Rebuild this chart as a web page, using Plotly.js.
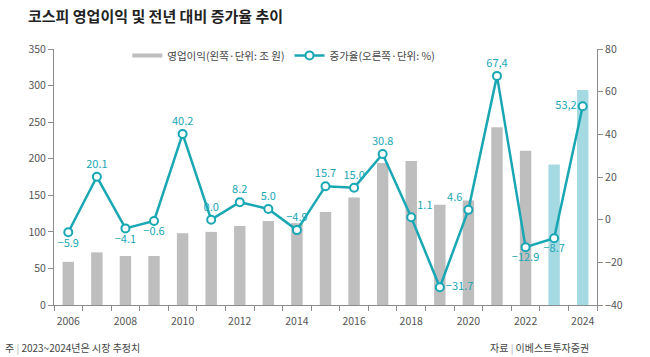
<!DOCTYPE html>
<html><head><meta charset="utf-8">
<script src="https://cdn.plot.ly/plotly-3.0.1.min.js"></script>
<style>html,body{margin:0;padding:0;background:#fff}#chart{width:650px;height:357px}</style>
</head><body><div id="chart"></div>
<script>
const years = [2006,2007,2008,2009,2010,2011,2012,2013,2014,2015,2016,2017,2018,2019,2020,2021,2022,2023,2024];
const profit = [59,72,67,67,98,100,108,115,112,127,147,194,197,137,143,243,211,192,294];
const growth = [-5.9,20.1,-4.1,-0.6,40.2,0.0,8.2,5.0,-4.9,15.7,15.0,30.8,1.1,-31.7,4.6,67.4,-12.9,-8.7,53.2];
const estimateYears = [2023,2024];
const commaYears = [2021,2024];
const labelYears = [2006,2008,2010,2012,2014,2016,2018,2020,2022,2024];
const boundaries = [2005.5].concat(years.map(y=>y+0.5));

const teal = '#19a7b4';
const barColors = years.map(y => estimateYears.includes(y) ? '#a6dae3' : '#bebebe');
const fmt = (v, y) => {
  let s = Math.abs(v).toFixed(1);
  if (commaYears.includes(y)) s = s.replace('.', ',');
  return (v < 0 ? '\u2212' : '') + s;
};
const posMap = {2006:'bottom center',2008:'bottom center',2009:'bottom center',2018:'top right',2019:'middle right',2020:'top left',2022:'bottom center',2023:'bottom center',2024:'middle left'};
const textPos = years.map(y => posMap[y] || 'top center');
const font = 'Noto Sans CJK KR, Noto Sans, sans-serif';
const axisColor = '#8c8c8c';
const tickFont = {family: font, size: 10.5, color: '#555'};

const traces = [
  {type:'bar', x: years, y: profit, marker:{color: barColors}, width: 0.4, showlegend:false, xaxis:'x', yaxis:'y', hoverinfo:'skip'},
  {type:'scatter', mode:'lines', x:[null], y:[null], name:'영업이익(왼쪽·단위: 조 원)', line:{color:'#bebebe', width:4}, xaxis:'x', yaxis:'y'},
  {type:'scatter', mode:'lines+markers+text', x: years, y: growth, name:'증가율(오른쪽·단위: %)',
   text: growth.map((v,i) => fmt(v, years[i])), textposition: textPos, textfont:{family: font, size: 11, color: teal},
   line:{color: teal, width: 2.5}, marker:{size: 8, color:'#fff', line:{color: teal, width: 2}},
   xaxis:'x2', yaxis:'y2', cliponaxis:false}
];

const layout = {
  width: 650, height: 357,
  margin: {l: 54, r: 53, t: 49, b: 52},
  paper_bgcolor:'#fff', plot_bgcolor:'#fff',
  font: {family: font, color:'#444'},
  title: {text:'코스피 영업이익 및 전년 대비 증가율 추이', x: 28/650, xanchor:'left', xref:'container', y: 1-17/357, yanchor:'middle', yref:'container',
          font:{family: font, size: 15, color:'#222', weight: 700}},
  showlegend: true,
  legend: {orientation:'h', x: 0.135, xanchor:'left', y: 0.975, yanchor:'middle', font:{family: font, size: 10.5, color:'#444'}, bgcolor:'rgba(0,0,0,0)', itemwidth: 30},
  xaxis: {range:[2005.5, 2024.5], tickvals: labelYears, ticktext: labelYears.map(String), ticks:'outside', ticklen: 6, tickcolor:'rgba(0,0,0,0)',
          showline: true, linecolor: axisColor, linewidth: 1, showgrid: false, zeroline: false, tickfont: tickFont, fixedrange: true},
  xaxis2: {range:[2005.5, 2024.5], overlaying:'x', anchor:'y2', side:'bottom', tickvals: boundaries, ticks:'outside', ticklen: 5, tickcolor: axisColor,
           showticklabels: false, showline: false, showgrid: false, zeroline: false},
  yaxis: {range:[0, 350], tickvals:[0,50,100,150,200,250,300,350], ticks:'outside', ticklen: 5, tickcolor: axisColor,
          showline: true, linecolor: axisColor, showgrid: false, zeroline: false, tickfont: tickFont},
  yaxis2: {range:[-40, 80], tickvals:[-40,-20,0,20,40,60,80], overlaying:'y', side:'right', anchor:'x2', ticks:'outside', ticklen: 5, tickcolor: axisColor,
           showline: true, linecolor: axisColor, showgrid: false, zeroline: false, tickfont: tickFont},
  annotations: [
    {text:'주 <span style="color:#aaa">|</span> 2023~2024년은 시장 추정치', xref:'paper', yref:'paper', x: (3-54)/543, y: -(347-305)/256, xanchor:'left', yanchor:'middle', showarrow:false, font:{family: font, size: 10, color:'#444'}},
    {text:'자료 <span style="color:#aaa">|</span> 이베스트투자증권', xref:'paper', yref:'paper', x: (591-54)/543, y: -(347-305)/256, xanchor:'right', yanchor:'middle', showarrow:false, font:{family: font, size: 10, color:'#444'}}
  ]
};

Plotly.newPlot('chart', traces, layout, {staticPlot: true, displayModeBar: false});
</script></body></html>
